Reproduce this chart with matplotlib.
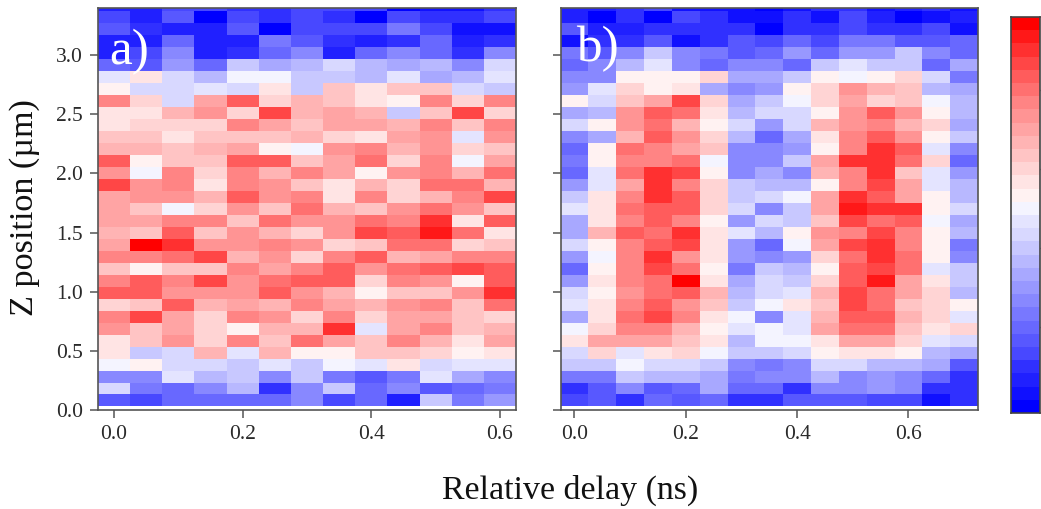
import numpy as np
import matplotlib
matplotlib.use("Agg")
import matplotlib.pyplot as plt
from matplotlib.colors import ListedColormap

plt.rcParams['font.family'] = ['Liberation Serif', 'DejaVu Serif']

# colour-level values (0 = deepest blue ... 29 = deepest red), top row first
panel_a = [
 [2,2,4,4,3,3,4,4,4,0,1,1,3],
 [4,2,5,0,4,3,4,3,0,4,3,3,4],
 [5,3,2,2,5,0,4,4,4,7,4,1,1],
 [2,2,6,2,2,7,5,3,2,3,6,2,3],
 [2,4,8,2,3,6,8,2,6,8,6,3,8],
 [6,5,9,6,12,10,11,13,11,10,11,8,13],
 [14,17,13,11,15,15,12,12,11,14,10,11,14],
 [16,13,13,14,13,17,12,19,17,19,19,13,12],
 [23,18,13,21,25,18,20,19,17,16,23,18,23],
 [17,17,20,22,18,26,20,21,20,12,19,26,18],
 [17,18,18,18,23,21,19,21,21,20,23,19,23],
 [19,19,17,19,19,19,20,18,17,21,22,14,22],
 [20,20,19,20,21,16,15,22,23,20,22,18,19],
 [25,16,19,19,25,25,19,21,24,18,23,15,21],
 [22,15,23,18,23,20,23,21,16,22,23,20,24],
 [26,22,23,17,23,22,19,17,20,18,24,24,20],
 [21,22,22,20,25,22,23,17,23,18,20,23,26],
 [21,19,15,18,22,19,24,20,19,22,24,22,19],
 [21,21,23,23,19,24,22,22,24,23,27,17,25],
 [20,19,25,19,22,20,18,22,26,25,28,24,17],
 [21,29,27,22,22,23,22,18,19,24,24,18,19],
 [23,23,24,26,20,22,18,23,25,20,21,23,23],
 [19,16,19,19,23,21,23,25,22,24,25,26,25],
 [23,25,23,26,22,24,25,25,18,23,22,16,25],
 [25,25,22,22,22,25,22,20,16,19,19,22,27],
 [18,19,25,20,21,20,23,21,20,22,23,19,24],
 [23,26,21,18,23,22,18,23,18,21,21,19,18],
 [22,19,21,18,16,20,20,27,14,21,23,19,20],
 [17,19,22,18,23,19,24,21,19,23,20,17,21],
 [17,12,13,20,14,20,16,16,19,19,18,16,17],
 [15,16,13,13,12,14,12,15,14,17,13,14,14],
 [8,8,14,11,12,8,12,7,5,7,14,10,8],
 [13,7,6,8,11,3,8,12,6,8,5,6,7],
 [5,4,6,6,6,6,8,4,6,2,12,7,9],
]
panel_b = [
 [2,2,3,4,1,1,1,0,1,3,3,1,2,3,1],
 [2,0,3,0,4,3,1,1,3,1,4,2,0,1,2],
 [5,2,2,3,3,3,3,0,3,3,4,3,3,4,1],
 [1,3,3,5,1,3,5,4,6,4,7,7,5,5,6],
 [7,5,8,12,8,7,5,6,9,6,9,9,12,8,6],
 [6,8,11,14,8,6,8,8,6,12,14,12,12,6,10],
 [8,8,16,16,16,18,10,10,12,16,15,16,18,13,7],
 [9,14,18,16,17,10,8,9,16,18,22,20,19,11,10],
 [16,13,19,21,26,18,10,12,15,18,21,18,19,15,11],
 [10,11,22,25,24,17,11,13,13,16,22,25,22,16,11],
 [13,16,22,24,20,16,13,9,13,20,22,23,20,18,10],
 [8,10,20,25,22,18,11,6,10,17,23,25,22,16,12],
 [6,16,24,23,21,19,8,8,9,16,23,27,25,14,8],
 [7,16,23,23,24,15,8,8,12,21,27,27,24,18,6],
 [6,14,24,27,26,16,8,10,8,20,23,27,19,14,9],
 [9,14,21,27,23,18,12,11,11,16,23,26,21,14,11],
 [12,17,23,27,25,18,12,13,15,21,27,25,21,16,11],
 [14,17,24,25,25,18,13,8,12,21,28,27,27,16,13],
 [10,17,23,25,23,16,9,13,12,19,26,24,25,15,10],
 [10,20,25,24,27,17,14,11,16,22,23,26,23,16,11],
 [13,16,23,25,26,17,9,6,15,21,26,27,23,16,7],
 [9,15,23,27,22,17,9,8,9,18,24,27,24,16,8],
 [6,16,23,26,24,16,7,12,11,16,25,26,24,14,12],
 [9,17,23,24,29,17,10,13,12,18,25,28,21,17,12],
 [13,16,22,24,25,20,11,13,14,20,26,24,21,18,11],
 [14,17,23,25,22,19,12,15,17,19,26,24,19,18,16],
 [10,17,24,26,23,17,15,8,14,20,25,25,20,18,14],
 [15,18,23,23,20,16,14,15,14,21,24,24,19,17,18],
 [17,21,21,21,19,17,11,15,15,17,21,21,18,14,13],
 [13,18,14,17,18,15,12,12,13,16,17,17,16,11,10],
 [12,12,15,13,13,12,8,7,8,13,13,11,11,10,5],
 [7,7,12,11,11,10,7,8,8,11,8,9,8,6,3],
 [3,5,8,5,6,10,6,6,3,8,8,9,8,3,3],
 [4,5,3,6,5,6,3,3,5,5,5,4,4,1,3],
]
x_ticks_a = [0.0, 0.2, 0.4, 0.6]
x_ticks_b = [0.0, 0.2, 0.4, 0.6]
y_ticks = [0.0, 0.5, 1.0, 1.5, 2.0, 2.5, 3.0]
y_start, y_step = 0.03, 0.1012
x_step = 0.05
n_levels = 30
colorbar_ticks = [6, 12, 18, 24]
panel_labels = ['a)', 'b)']
xlabel = 'Relative delay (ns)'
ylabel = 'Z position (µm)'

blue_side = [0x00,0x10,0x20,0x30,0x48,0x58,0x68,0x78,0x88,0x98,0xa8,0xb8,0xc8,0xd8,0xe4,0xf4]
red_side = [0xf2,0xe4,0xd4,0xc4,0xb4,0xa4,0x94,0x84,0x70,0x5c,0x46,0x30,0x18,0x00]
cols = [(v/255, v/255, 1.0) for v in blue_side] + [(1.0, v/255, v/255) for v in red_side]
cmap = ListedColormap(cols)

W, H = 1041, 509
fig = plt.figure(figsize=(W/100, H/100), dpi=100)
def add_ax(l, t, r, b):
    return fig.add_axes([l/W, 1-b/H, (r-l)/W, (b-t)/H])

axa = add_ax(98, 7.5, 516, 410)
axb = add_ax(560.5, 7.5, 978, 410)

for ax, data, xt, xlim in ((axa, panel_a, x_ticks_a, (-0.025, 0.625)),
                           (axb, panel_b, x_ticks_b, (-0.025, 0.725))):
    z = np.array(data)[::-1]
    nr, nc = z.shape
    xe = (np.arange(nc+1) - 0.5) * x_step
    ye = y_start + np.arange(nr+1) * y_step
    ax.pcolormesh(xe, ye, z, cmap=cmap, vmin=-0.5, vmax=n_levels-0.5, shading='flat',
                  antialiased=False, linewidth=0)
    ax.set_xlim(*xlim)
    ax.set_ylim(0, 3.403)
    ax.set_xticks(xt)
    ax.set_xticklabels([f'{v:.1f}' for v in xt])
    ax.set_yticks(y_ticks)
    ax.tick_params(axis='both', direction='out', length=6, width=1.1, color='#555555',
                   labelsize=15.5, labelcolor='#2a2a2a', pad=5)
    for s in ax.spines.values():
        s.set_color('#555555')
        s.set_linewidth(1.2)

fig.text(109/W, 1-64/H, panel_labels[0], color='white', fontsize=37, ha='left', va='baseline')
fig.text(576/W, 1-61/H, panel_labels[1], color='white', fontsize=37, ha='left', va='baseline')

axa.set_yticklabels([f'{v:.1f}' for v in y_ticks])
axb.set_yticklabels([])
fig.text(25/W, 1-208/H, ylabel, fontsize=24.6, color='#111111', rotation=90, ha='center', va='center')
fig.text(570.5/W, 1-490/H, xlabel, fontsize=24.4, color='#111111', ha='center', va='center')

cax = add_ax(1010.5, 17, 1040, 413)
levels = np.arange(n_levels)
cax.pcolormesh([0, 1], np.arange(n_levels+1) - 0.5, levels[:, None], cmap=cmap,
               vmin=-0.5, vmax=n_levels-0.5, shading='flat', antialiased=False)
cax.set_xticks([])
cax.yaxis.tick_right()
cax.set_yticks(colorbar_ticks)
cax.set_yticklabels([])
cax.tick_params(axis='y', direction='out', length=1, width=1, color='#444444')
for s in cax.spines.values():
    s.set_color('#444444')
    s.set_linewidth(1.2)

fig.savefig('out.png', dpi=100)
